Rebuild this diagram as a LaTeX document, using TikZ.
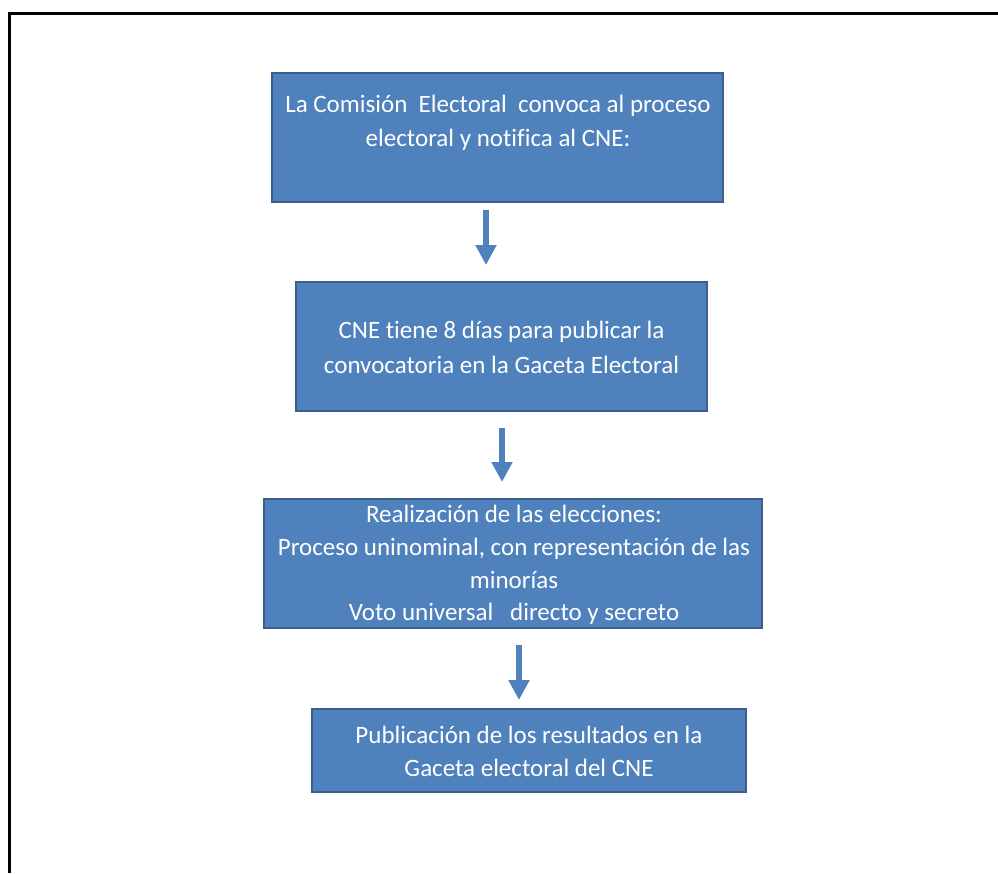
\documentclass[tikz,border=0pt]{standalone}
\usepackage{fontspec}
\setmainfont[Ligatures=NoCommon]{Carlito}
\usetikzlibrary{arrows.meta}
\definecolor{boxfill}{HTML}{4F81BD}
\definecolor{boxline}{HTML}{3A5F8D}
\tikzset{
  flowbox/.style={draw=boxline, line width=2.8pt, fill=boxfill, rectangle, inner sep=0pt},
  boxtext/.style={text=white, align=center, font=\fontsize{25}{33}\selectfont, inner sep=0pt},
  flowarrow/.style={draw=boxfill, line width=6pt, -{Triangle[width=20pt,length=20pt]}},
  frameline/.style={line width=3pt, black}
}
\begin{document}
\begin{tikzpicture}[x=1pt,y=-1pt]
\useasboundingbox (0,0) rectangle (998,873);
% outer frame (top and left visible)
\coordinate (fc) at (9,13.5);
\coordinate (ftr) at (998,13.5);
\coordinate (fbl) at (9,873);
\draw[frameline] (ftr) -- (fc) -- (fbl);
% boxes
\node[flowbox, minimum width=451pt, minimum height=129pt] (b1) at (497.5,137.5) {};
\node[flowbox, minimum width=411pt, minimum height=129pt] (b2) at (501.5,346.5) {};
\node[flowbox, minimum width=498pt, minimum height=129pt] (b3) at (513,563.5) {};
\node[flowbox, minimum width=434pt, minimum height=83pt] (b4) at (529,750.5) {};
% texts
\node[boxtext, font=\fontsize{25}{34}\selectfont] (t1) at (498,123) {La Comisión\ \ Electoral\ \ convoca al proceso\\electoral y notifica al CNE:};
\node[boxtext, font=\fontsize{25}{35}\selectfont] (t2) at (501.5,347.5) {CNE tiene 8 días para publicar la\\convocatoria en la Gaceta Electoral};
\node[boxtext, font=\fontsize{25}{32.7}\selectfont] (t3) at (514,565) {Realización de las elecciones:\\Proceso uninominal, con representación de las\\minorías\\Voto universal\ \ \ directo y secreto};
\node[boxtext] (t4) at (529,751.5) {Publicación de los resultados en la\\Gaceta electoral del CNE};
% arrows
\coordinate (a1s) at (486,210);
\coordinate (a1e) at (486,265);
\coordinate (a2s) at (502,428);
\coordinate (a2e) at (502,482);
\coordinate (a3s) at (519,645);
\coordinate (a3e) at (519,700);
\draw[flowarrow] (a1s) -- (a1e);
\draw[flowarrow] (a2s) -- (a2e);
\draw[flowarrow] (a3s) -- (a3e);
\end{tikzpicture}
\end{document}
